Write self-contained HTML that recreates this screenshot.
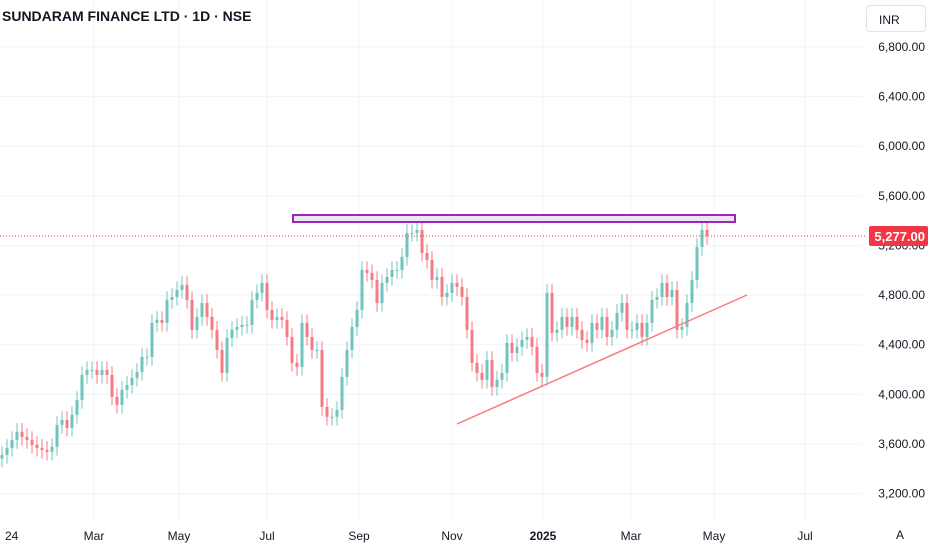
<!DOCTYPE html>
<html><head><meta charset="utf-8"><style>
body{margin:0;width:932px;height:550px;background:#fff;overflow:hidden;font-family:"Liberation Sans",sans-serif;}
svg{position:absolute;left:0;top:0}
</style></head><body>
<svg id="c" width="932" height="550"></svg>
<script>
const closes=[3512,3569,3633,3698,3657,3633,3593,3569,3553,3537,3577,3754,3794,3730,3835,3955,4157,4197,4197,4157,4197,4157,3980,3915,4036,4076,4133,4181,4302,4302,4576,4600,4576,4761,4785,4842,4882,4761,4520,4624,4737,4624,4520,4358,4173,4455,4520,4544,4560,4560,4761,4818,4898,4681,4600,4624,4600,4463,4254,4221,4576,4463,4358,4358,3899,3819,3819,3875,4141,4358,4544,4681,5003,4979,4922,4737,4898,4947,5003,5003,5108,5301,5301,5325,5140,5084,4922,4947,4785,4818,4898,4866,4785,4520,4254,4173,4117,4278,4060,4117,4173,4415,4334,4383,4439,4463,4383,4173,4141,4818,4495,4520,4624,4544,4624,4520,4439,4415,4576,4520,4624,4463,4520,4657,4737,4520,4520,4576,4463,4576,4761,4785,4898,4785,4842,4520,4544,4737,4922,5188,5325,5277];
const priceTicks=[6800,6400,6000,5600,5200,4800,4400,4000,3600,3200];
const timeLabels=["24","Mar","May","Jul","Sep","Nov","2025","Mar","May","Jul"];
const timeIdx=[0.6,18.4,35.4,53,71.4,90,108.2,125.8,142.4,160.6];
const lastPrice=5277;
const NS="http://www.w3.org/2000/svg";
const svg=document.getElementById('c');
const y=p=>47+(6800-p)*0.12406;
const x=i=>2+i*5;
function mk(t,a,parent){const e=document.createElementNS(NS,t);for(const k in a)e.setAttribute(k,a[k]);(parent||svg).appendChild(e);return e;}
priceTicks.forEach(p=>{const l=mk('line',{x1:0,x2:862,y1:y(p),y2:y(p),stroke:'#f0f3fa'});


const t=mk('text',{x:925,y:y(p)+4,'text-anchor':'end','font-size':12,fill:'#131722'});t.textContent=p.toLocaleString('en-US')+'.00';

});
timeLabels.forEach((s,k)=>{const xx=x(timeIdx[k]);
if(k>0){const l=mk('line',{x1:xx,x2:xx,y1:0,y2:520,stroke:'#f0f3fa'});

}
const t=mk('text',{x:k==0?5:xx,y:540,'text-anchor':k==0?'start':'middle','font-size':12,fill:'#131722','font-weight':s=='2025'?'bold':'normal'});t.textContent=s;

});
closes.forEach((c,i)=>{const o=i?closes[i-1]:c-30;const up=c>=o;const col=up?'#26a69a':'#f23645';
const g=mk('g',{opacity:0.65});


mk('line',{x1:x(i),x2:x(i),y1:y(Math.max(o,c)+70),y2:y(Math.min(o,c)-70),stroke:col,'stroke-width':1},g);
const top=y(Math.max(o,c)),h=Math.max(1,Math.abs(y(o)-y(c)));
mk('rect',{x:x(i)-1.5,y:top,width:3,height:h,fill:col},g);});
const tl=mk('line',{x1:457,y1:424,x2:747,y2:295,stroke:'#f77c80','stroke-width':1.5});


const rr=mk('rect',{x:293,y:215,width:442,height:7,fill:'#efe3f5',stroke:'#9c27b0','stroke-width':2});


const lp=mk('line',{x1:0,x2:866,y1:y(lastPrice),y2:y(lastPrice),stroke:'#f23645','stroke-width':1,'stroke-dasharray':'1 2'});


const lb=mk('rect',{x:869,y:y(lastPrice)-10,width:59,height:20,rx:2,fill:'#f23645'});


const lt=mk('text',{x:925,y:y(lastPrice)+5,'text-anchor':'end','font-size':13,fill:'#fff','font-weight':'bold'});lt.textContent=lastPrice.toLocaleString('en-US')+'.00';


</script>
<div style="position:absolute;left:2px;top:8px;font-size:14px;font-weight:bold;color:#131722;">SUNDARAM FINANCE LTD · 1D · NSE</div>
<div style="position:absolute;left:866px;top:5px;width:60px;height:27px;border:1px solid #e0e3eb;border-radius:4px;box-sizing:border-box;font-size:12px;color:#131722;padding:7px 0 0 12px;">INR</div>
<div style="position:absolute;left:896px;top:528px;font-size:12px;color:#131722;">A</div>
</body></html>
